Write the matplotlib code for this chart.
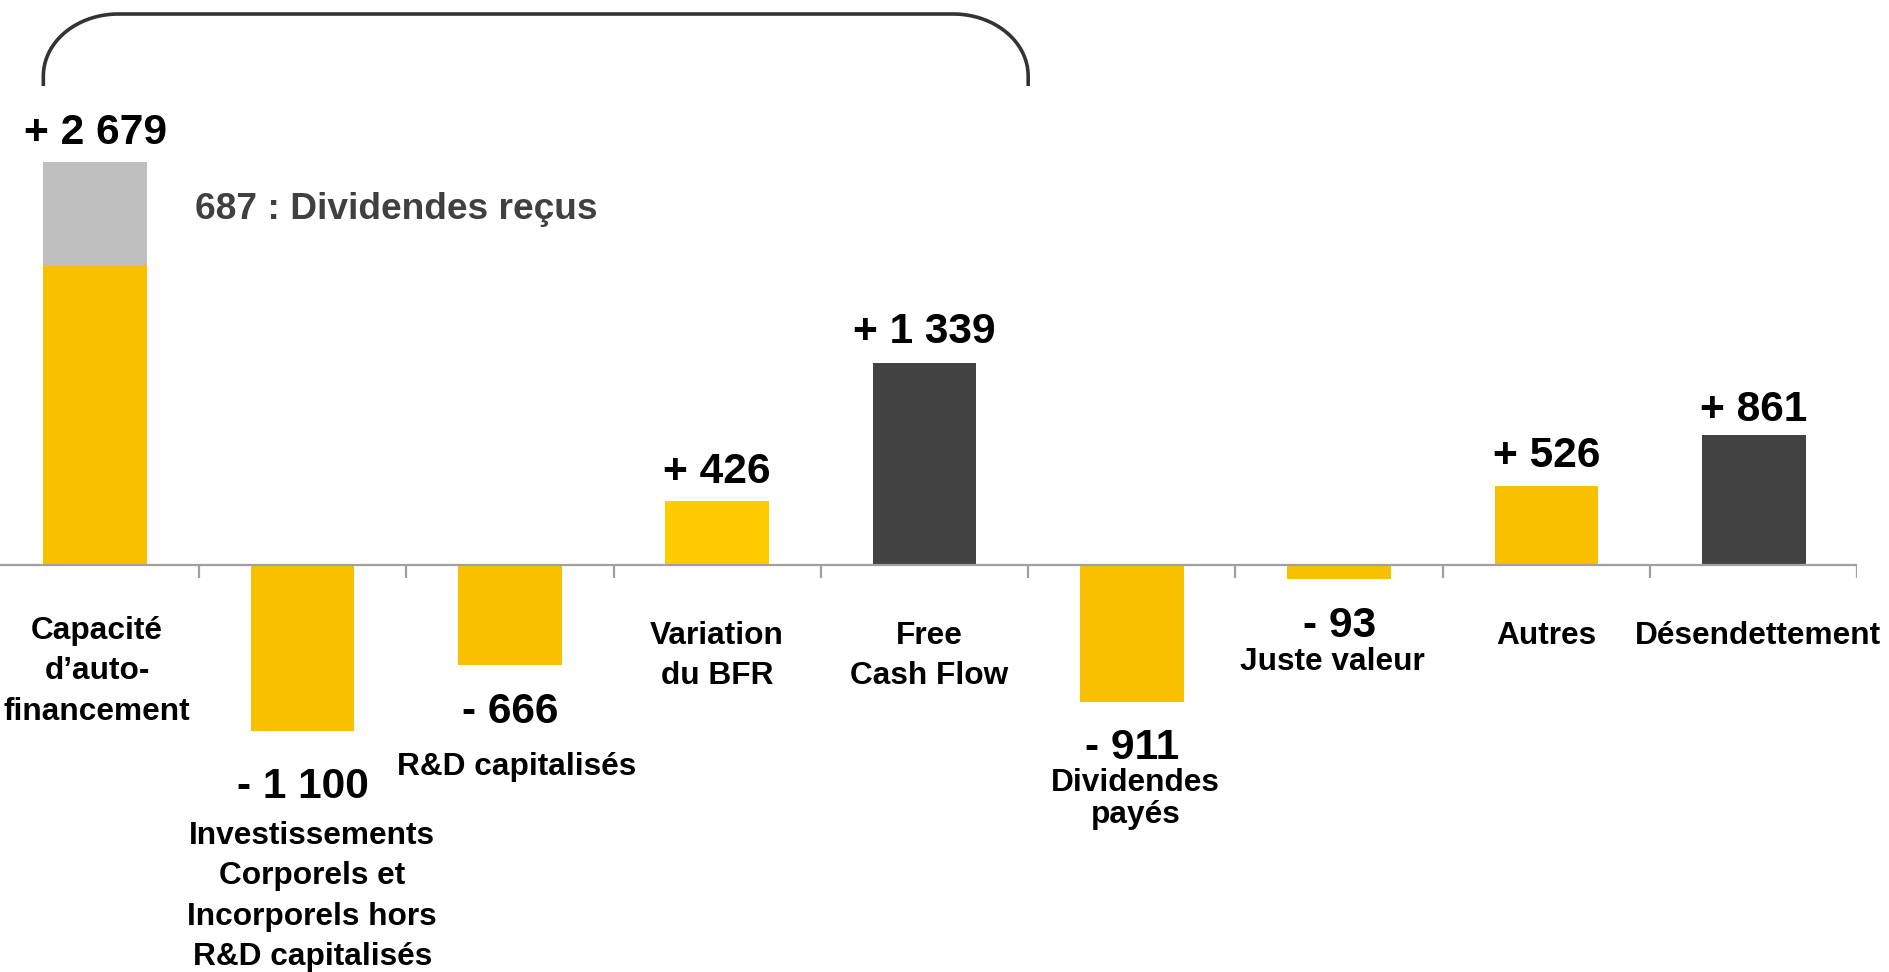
import numpy as np
import matplotlib
matplotlib.use("Agg")
import matplotlib.pyplot as plt
from matplotlib.path import Path
from matplotlib.patches import PathPatch
import matplotlib.transforms as mtransforms

# ---------------- data ----------------
categories = [
    "Capacité\nd\u2019auto-\nfinancement",
    "Investissements\nCorporels et\nIncorporels hors\nR&D capitalisés",
    "R&D capitalisés",
    "Variation\ndu BFR",
    "Free\nCash Flow",
    "Dividendes\npayés",
    "Juste valeur",
    "Autres",
    "Désendettement",
]
values = [2679, -1100, -666, 426, 1339, -911, -93, 526, 861]
value_labels = ["+ 2 679", "- 1 100", "- 666", "+ 426", "+ 1 339",
                "- 911", "- 93", "+ 526", "+ 861"]
dividends_received = 687
dividends_label = "687 : Dividendes reçus"
bar_kinds = ["split", "flow", "flow", "flow2", "total", "flow", "flow", "flow", "total"]

# ---------------- style ----------------
colors = {"flow": "#F9C000", "flow2": "#FFCC00", "total": "#424242", "split": "#F9C000"}
gray_top = "#BFBFBF"
FONT = ["Liberation Sans", "DejaVu Sans"]
plt.rcParams["font.family"] = FONT
plt.rcParams["font.weight"] = "bold"

W, H = 1889, 972
S = W / 1568.0          # reference (shrunk) px -> full px
fig = plt.figure(figsize=(W / 100, H / 100), dpi=100)

# layout: category spacing and zero line (in reference px)
spacing_px = 172.1 * S
x0_px = 79 * S
base_px = 469 * S
unit_px = 0.125 * S      # px per value unit
left_px = x0_px - 0.5 * spacing_px
ax = fig.add_axes([left_px / W, 0, 9 * spacing_px / W, 1])
ax.set_xlim(-0.5, 8.5)
ax.set_ylim(-(H - base_px) / unit_px, base_px / unit_px)
ax.axis("off")

bw = 0.5
for i, (v, k) in enumerate(zip(values, bar_kinds)):
    if k == "split":
        ax.bar(i, v - dividends_received, width=bw, color=colors[k], linewidth=0)
        ax.bar(i, dividends_received, bottom=v - dividends_received, width=bw,
               color=gray_top, linewidth=0)
    else:
        ax.bar(i, v, width=bw, color=colors[k], linewidth=0)

# zero axis with tick marks between categories
ax.axhline(0, color="#A0A0A0", lw=1.6, zorder=3)
tick_len = 13 / unit_px
ax.vlines(np.arange(-0.5, 9.0, 1.0), -tick_len, 0, color="#A0A0A0", lw=1.6, zorder=3)

def pt(ref_px):
    return ref_px * S * 0.72

# value labels (offset of label centre from bar end, reference px)
val_off = [24, 47, 39, 24, 26, 38, 39, 25, 21]
for i, (v, lab) in enumerate(zip(values, value_labels)):
    sign = 1 if v > 0 else -1
    ax.annotate(lab, xy=(i, v), xytext=(0, sign * pt(val_off[i])),
                textcoords="offset points", ha="center", va="center",
                fontsize=30.6, fontweight="bold", color="black")

# category labels (first line center y in reference px, x shift in reference px)
trans = mtransforms.blended_transform_factory(ax.transData, fig.transFigure)
cat_y = [524, 694, 637, 528, 528, 650, 550, 528, 528]
cat_dx = [1.5, 8, 6, 0, 4, 3, -6, 0, 3]
cat_ls = [33.5, 33.5, 33.5, 33.5, 33.5, 27, 33.5, 33.5, 33.5]
for i, lab in enumerate(categories):
    for j, line in enumerate(lab.split("\n")):
        yy = cat_y[i] + j * cat_ls[i]
        ax.text(i + cat_dx[i] / 172.1, 1 - yy / 807.0, line, transform=trans,
                ha="center", va="center", fontsize=22.8, fontweight="bold",
                color="black")

# dividends received annotation
ax.text(162 * S / W, 1 - 174 / 807.0, dividends_label, transform=fig.transFigure,
        ha="left", va="center", fontsize=26.7, fontweight="bold", color="#404040")

# bracket over the first five categories (from left edge of bar 0 to boundary 4.5)
xl, xr = -0.25, 4.5
y_bot = (base_px - 86) / unit_px
y_top = (base_px - 14) / unit_px
rx = 75 / spacing_px
ry = 62 / unit_px
t = np.linspace(np.pi, np.pi / 2, 30)
left_arc = np.column_stack([xl + rx + rx * np.cos(t), y_top - ry + ry * np.sin(t)])
t2 = np.linspace(np.pi / 2, 0, 30)
right_arc = np.column_stack([xr - rx + rx * np.cos(t2), y_top - ry + ry * np.sin(t2)])
pts = np.vstack([[xl, y_bot], left_arc, right_arc, [xr, y_bot]])
ax.add_patch(PathPatch(Path(pts), fill=False, edgecolor="#333333", lw=2.6,
                       capstyle="butt", joinstyle="round", clip_on=False))

fig.savefig("out.png", dpi=100)
